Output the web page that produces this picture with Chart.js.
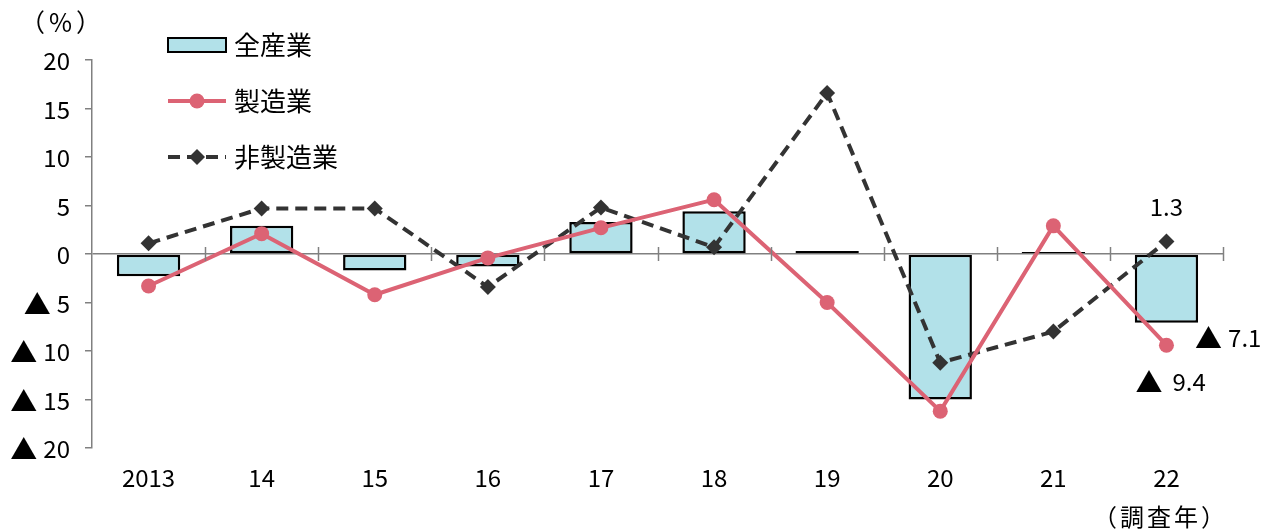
<!DOCTYPE html>
<html>
<head>
<meta charset="utf-8">
<script src="https://cdn.jsdelivr.net/npm/chart.js@4.4.0/dist/chart.umd.min.js"></script>
<style>
  html, body { margin: 0; padding: 0; background: #fff; }
  #wrap { width: 1272px; height: 531px; position: relative; }
</style>
</head>
<body>
<div id="wrap"><canvas id="chart"></canvas></div>
<script>
const years = ['2013', '14', '15', '16', '17', '18', '19', '20', '21', '22']
const allIndustry = [-2.3, 2.9, -1.7, -1.3, 3.3, 4.4, 0.3, -15.0, 0.2, -7.1]
const manufacturing = [-3.3, 2.1, -4.2, -0.4, 2.7, 5.6, -5.0, -16.2, 2.9, -9.4]
const nonManufacturing = [1.1, 4.7, 4.7, -3.4, 4.8, 0.7, 16.6, -11.2, -8.0, 1.3]
const seriesNames = ['全産業', '製造業', '非製造業']

const FONT = '"Noto Sans CJK JP", "Noto Sans", sans-serif'
const RED = '#dc6374'
const DARK = '#333333'
const CYAN = '#b2e1e9'

// a number with the ▲ sign for minus, ▲ drawn bigger like the original
// align 'right': x is the right edge, 'left': x is the left edge
const drawValue = (ctx, v, x, baseY, align, gap = 6) => {
    const num = String(Math.abs(v))
    ctx.font = '24px ' + FONT
    const nw = ctx.measureText(num).width
    ctx.font = '27px ' + FONT
    const tw = v < 0 ? ctx.measureText('▲').width : 0
    if (v >= 0) gap = 0
    const left = align === 'right' ? x - nw - gap - tw : x
    ctx.textAlign = 'left'
    ctx.textBaseline = 'alphabetic'
    if (v < 0) ctx.fillText('▲', left, baseY + 2)
    ctx.font = '24px ' + FONT
    ctx.fillText(num, left + tw + gap, baseY)
}

// zero line ticks, y labels, legend, unit texts and value notes
const extras = {
    id: 'extras',
    afterDatasetsDraw(chart) {
        const ctx = chart.ctx
        const xs = chart.scales.x
        const ys = chart.scales.y
        const y0 = ys.getPixelForValue(0)

        ctx.save()
        ctx.strokeStyle = '#808080'
        ctx.lineWidth = 1.5
        const step = (xs.right - xs.left) / years.length
        for (let i = 1; i <= years.length; ++i) {
            const x = Math.round(xs.left + step * i) + 0.5
            ctx.beginPath()
            ctx.moveTo(x, y0 - 7)
            ctx.lineTo(x, y0 + 7)
            ctx.stroke()
        }

        ctx.fillStyle = '#000'
        for (const t of ys.ticks) {
            drawValue(ctx, t.value, 70, ys.getPixelForValue(t.value) + 10, 'right')
        }

        // legend
        const lx = 168, lw = 58, tx = 234
        ctx.fillStyle = CYAN
        ctx.fillRect(lx, 38, lw, 14)
        ctx.strokeStyle = '#000'
        ctx.lineWidth = 2
        ctx.strokeRect(lx, 38, lw, 14)

        ctx.strokeStyle = RED
        ctx.lineWidth = 4
        ctx.beginPath()
        ctx.moveTo(lx, 101)
        ctx.lineTo(lx + lw, 101)
        ctx.stroke()
        ctx.fillStyle = RED
        ctx.beginPath()
        ctx.arc(lx + lw / 2, 101, 7.5, 0, Math.PI * 2)
        ctx.fill()

        ctx.strokeStyle = DARK
        ctx.setLineDash([12, 7])
        ctx.beginPath()
        ctx.moveTo(lx, 157)
        ctx.lineTo(lx + lw, 157)
        ctx.stroke()
        ctx.setLineDash([])
        ctx.fillStyle = DARK
        ctx.beginPath()
        ctx.moveTo(lx + lw / 2, 149)
        ctx.lineTo(lx + lw / 2 + 8, 157)
        ctx.lineTo(lx + lw / 2, 165)
        ctx.lineTo(lx + lw / 2 - 8, 157)
        ctx.closePath()
        ctx.fill()

        ctx.fillStyle = '#000'
        ctx.textAlign = 'left'
        ctx.textBaseline = 'middle'
        ctx.font = '26px ' + FONT
        ctx.fillText(seriesNames[0], tx, 45)
        ctx.fillText(seriesNames[1], tx, 101)
        ctx.fillText(seriesNames[2], tx, 157)

        // units
        ctx.font = '25px ' + FONT
        ctx.letterSpacing = '4px'
        ctx.fillText('（%）', 20, 22)
        ctx.font = '24px ' + FONT
        ctx.letterSpacing = '3px'
        ctx.fillText('（調査年）', 1093, 517)
        ctx.letterSpacing = '0px'

        // value notes for last year
        const last = years.length - 1
        const bar = chart.getDatasetMeta(0).data[last]
        const red = chart.getDatasetMeta(1).data[last]
        const dark = chart.getDatasetMeta(2).data[last]
        ctx.textAlign = 'center'
        ctx.textBaseline = 'alphabetic'
        ctx.font = '24px ' + FONT
        ctx.fillText(String(nonManufacturing[last]), dark.x, dark.y - 25)
        drawValue(ctx, manufacturing[last], red.x - 31, red.y + 46, 'left', 10)
        drawValue(ctx, allIndustry[last], bar.x + bar.width / 2 - 3, bar.y + 24, 'left')
        ctx.restore()
    }
}

new Chart(document.getElementById('chart'), {
    data: {
        labels: years,
        datasets: [
            {
                type: 'bar',
                label: seriesNames[0],
                data: allIndustry,
                backgroundColor: CYAN,
                borderColor: '#000',
                borderWidth: 2.5,
                borderSkipped: false,
                categoryPercentage: 1,
                barPercentage: 0.56,
                order: 3,
            },
            {
                type: 'line',
                label: seriesNames[1],
                data: manufacturing,
                borderColor: RED,
                backgroundColor: RED,
                borderWidth: 4,
                pointRadius: 7.5,
                pointBorderWidth: 0,
                pointStyle: 'circle',
                tension: 0,
                order: 1,
            },
            {
                type: 'line',
                label: seriesNames[2],
                data: nonManufacturing,
                borderColor: DARK,
                backgroundColor: DARK,
                borderWidth: 4,
                borderDash: [12, 7],
                pointRadius: 8,
                pointBorderWidth: 0,
                pointStyle: 'rectRot',
                tension: 0,
                order: 2,
            },
        ],
    },
    options: {
        responsive: true,
        maintainAspectRatio: false,
        animation: false,
        layout: { padding: { left: 0, right: 49, top: 60, bottom: 0 } },
        plugins: {
            legend: { display: false },
            tooltip: { enabled: false },
        },
        scales: {
            x: {
                offset: true,
                grid: { display: false, drawTicks: false },
                border: { display: false },
                ticks: {
                    color: '#000',
                    font: { family: FONT, size: 24 },
                    padding: 15,
                    maxRotation: 0,
                },
                afterFit: (s) => { s.height = 83 },
            },
            y: {
                min: -20,
                max: 20,
                ticks: {
                    stepSize: 5,
                    display: false,
                },
                grid: {
                    color: (c) => (c.tick && c.tick.value === 0 ? '#808080' : 'rgba(0,0,0,0)'),
                    lineWidth: 1.5,
                    tickColor: '#808080',
                    tickLength: 7,
                },
                border: { color: '#808080', width: 1.5 },
                afterFit: (s) => { s.width = 92 },
            },
        },
    },
    plugins: [extras],
})
</script>
</body>
</html>
